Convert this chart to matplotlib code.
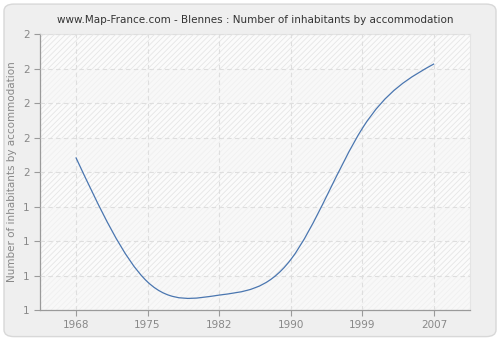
import numpy as np
import matplotlib
matplotlib.use('Agg')
import matplotlib.pyplot as plt
from matplotlib.path import Path
from matplotlib.patches import PathPatch, FancyBboxPatch

years = ['1968', '1975', '1982', '1990', '1999', '2007']
inhabitants = [1.553, 1.102, 1.054, 1.183, 1.659, 1.892]
y_ticks = [1.0, 1.125, 1.25, 1.375, 1.5, 1.625, 1.75, 1.875, 2.0]

plt.rcParams['font.family'] = 'DejaVu Sans'
plt.rcParams['hatch.linewidth'] = 0.6

fig = plt.figure(figsize=(5, 3.4), dpi=100)
fig.patch.set_facecolor('white')
fig.patches.append(FancyBboxPatch((0.008, 0.01), 0.984, 0.978,
                                  boxstyle='round,pad=0,rounding_size=0.02',
                                  transform=fig.transFigure, facecolor='#efefef',
                                  edgecolor='#d8d8d8', linewidth=1, zorder=-10))

ax = fig.add_axes([0.08, 0.0882, 0.86, 0.8118])
ax.set_facecolor('#f8f8f8')
# alternating bands, every other one hatched more strongly
for k in range(len(y_ticks) - 1):
    if k % 2 == 1:
        ax.axhspan(y_ticks[k], y_ticks[k + 1], facecolor='#fbfbfb', edgecolor='#e6e6e6',
                   linewidth=0, hatch='//////', zorder=0)
    else:
        ax.axhspan(y_ticks[k], y_ticks[k + 1], facecolor='#f8f8f8', edgecolor='#f0f0f0',
                   linewidth=0, hatch='//////', zorder=0)

# smooth line: natural cubic spline drawn as bezier segments
x = np.arange(len(years))
y = np.array(inhabitants)
n = len(x)
A = np.zeros((n, n))
b = np.zeros(n)
A[0, 0] = A[-1, -1] = 1
for i in range(1, n - 1):
    A[i, i - 1:i + 2] = [1, 4, 1]
    b[i] = 6 * (y[i + 1] - 2 * y[i] + y[i - 1])
M = np.linalg.solve(A, b)
tang = np.zeros(n)
for i in range(n - 1):
    tang[i] = (y[i + 1] - y[i]) - (2 * M[i] + M[i + 1]) / 6
tang[-1] = (y[-1] - y[-2]) + (M[-2] + 2 * M[-1]) / 6

verts = [(x[0], y[0])]
codes = [Path.MOVETO]
for i in range(n - 1):
    verts += [(x[i] + 1 / 3, y[i] + tang[i] / 3),
              (x[i + 1] - 1 / 3, y[i + 1] - tang[i + 1] / 3),
              (x[i + 1], y[i + 1])]
    codes += [Path.CURVE4] * 3
ax.add_patch(PathPatch(Path(verts, codes), facecolor='none', edgecolor='#4a76b0',
                       linewidth=0.9, zorder=3))

ax.set_xlim(-0.5, n - 0.5)
ax.set_ylim(1, 2)
ax.set_xticks(x)
ax.set_xticklabels(years)
ax.set_yticks(y_ticks)
ax.set_yticklabels(['%.0f' % v for v in y_ticks])
ax.grid(True, color='#dedede', linestyle=(0, (4, 3)), linewidth=0.8, zorder=1)
ax.set_axisbelow(False)

for s in ['top', 'right']:
    ax.spines[s].set_color('#e4e4e4')
    ax.spines[s].set_linewidth(0.8)
for s in ['left', 'bottom']:
    ax.spines[s].set_color('#9a9a9a')
    ax.spines[s].set_linewidth(0.9)
ax.tick_params(colors='#9a9a9a', labelcolor='#888888', labelsize=7.5, length=4, width=0.8)

ax.set_ylabel('Number of inhabitants by accommodation', color='#888888', fontsize=7.5)
ax.set_title('www.Map-France.com - Blennes : Number of inhabitants by accommodation',
             fontsize=7.5, color='#333333', pad=8)

fig.savefig('out.png', dpi=100, facecolor=fig.get_facecolor())
